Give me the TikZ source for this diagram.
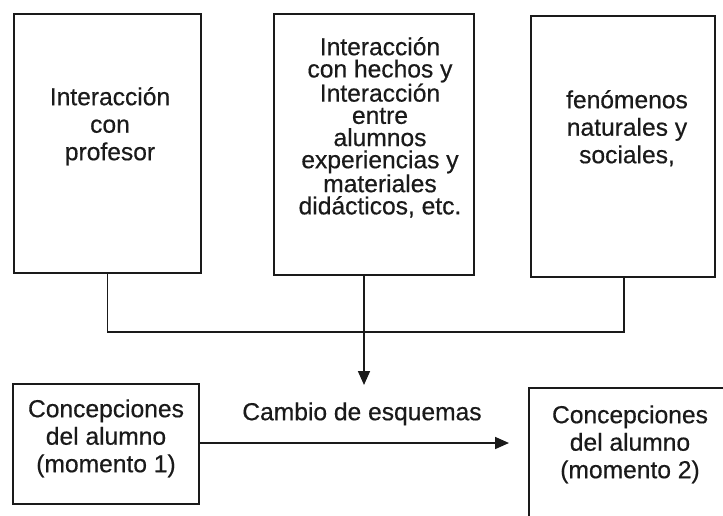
\documentclass[tikz,border=0pt]{standalone}
\usepackage{fontspec}
\setmainfont[FakeBold=0.5]{Liberation Sans}
\usetikzlibrary{arrows.meta,calc}
\definecolor{ink}{HTML}{1A1A1A}
\begin{document}
\begin{tikzpicture}[x=1pt,y=-1pt,
  box/.style={draw=ink,line width=1.7pt,rectangle,inner sep=0pt,anchor=north west},
  txt/.style={text=ink,align=center,anchor=north,inner sep=0pt,font=\fontsize{24.6}{27.5}\selectfont},
  tight/.style={font=\fontsize{24.6}{22.2}\selectfont},
  conn/.style={draw=ink,line width=1.7pt},
  arr/.style={conn,-{Triangle[length=14pt,width=12pt]}}]
\useasboundingbox (0,0) rectangle (723,515);
\clip (0,0) rectangle (723,515);
% top boxes
\node[box,minimum width=187pt,minimum height=259pt] (b1) at (13,13) {};
\node[box,minimum width=200pt,minimum height=261pt] (b2) at (273,13) {};
\node[box,minimum width=184pt,minimum height=261pt] (b3) at (530,15) {};
% bottom boxes
\node[box,minimum width=186pt,minimum height=120pt] (c1) at (12,383) {};
\node[box,minimum width=230pt,minimum height=160pt] (c2) at (528,387) {};
% texts
\node[txt] (t1) at (110,86) {\rule{0pt}{19pt}Interacción\\con\\profesor};
\node[txt,tight] (t2) at (380,36) {\rule{0pt}{19pt}Interacción\\con hechos y\\Interacción\\entre\\alumnos\\experiencias y\\materiales\\didácticos, etc.};
\node[txt] (t3) at (627,89) {\rule{0pt}{19pt}fenómenos\\naturales y\\sociales,};
\node[txt] (t4) at (106,398) {\rule{0pt}{19pt}Concepciones\\del alumno\\(momento 1)};
\node[txt] (t5) at (630,404) {\rule{0pt}{19pt}Concepciones\\del alumno\\(momento 2)};
\node[txt] (t6) at (362,401) {\rule{0pt}{19pt}Cambio de esquemas};
% connectors
\coordinate (j) at (364,330);
\coordinate (vt) at (364,385);
\coordinate (ht) at (509,443);
\draw[conn] ($(b1.south west)!0.5!(b1.south east)$) -- ($(b1.south west)!0.5!(b1.south east)+(0,58)$) -| ($(b3.south)+(1,0)$);
\draw[conn] (b2.south -| j) -- (j);
\draw[arr] (j) -- (vt);
\draw[arr] (c1.east |- ht) -- (ht);
\end{tikzpicture}
\end{document}
